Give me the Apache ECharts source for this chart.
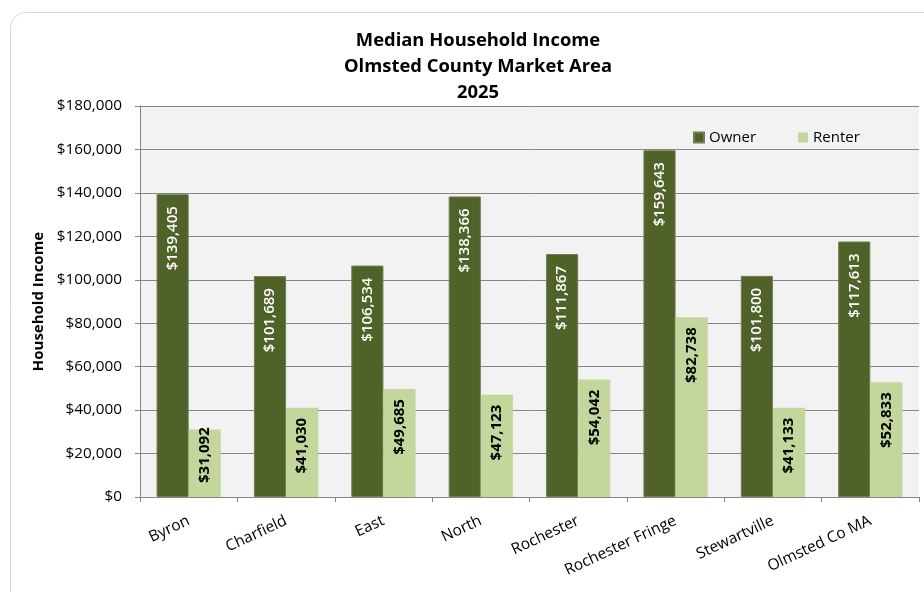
<!DOCTYPE html>
<html>
<head>
<meta charset="utf-8">
<script src="https://cdn.jsdelivr.net/npm/echarts@6/dist/echarts.min.js"></script>
<style>
  html, body { margin: 0; padding: 0; background: #ffffff; }
  #chart { width: 924px; height: 592px; }
</style>
</head>
<body>
<div id="chart"></div>
<script>
// Median household income by submarket, 2025
const categories = ['Byron', 'Charfield', 'East', 'North', 'Rochester', 'Rochester Fringe', 'Stewartville', 'Olmsted Co MA'];
const ownerIncome = [139405, 101689, 106534, 138366, 111867, 159643, 101800, 117613];
const renterIncome = [31092, 41030, 49685, 47123, 54042, 82738, 41133, 52833];
const yTicks = [0, 20000, 40000, 60000, 80000, 100000, 120000, 140000, 160000, 180000];

const FONT = '"Open Sans", "Noto Sans", sans-serif';
const money = v => '$' + Math.round(v).toLocaleString('en-US');

const chart = echarts.init(document.getElementById('chart'), null, { renderer: 'canvas' });

// Short bars: keep the rotated value label clear of the bar base
const renterData = renterIncome.map(v => {
  if (v < 35000) {
    return { value: v, label: { position: 'insideBottom', align: 'left', distance: 14 } };
  }
  return v;
});

chart.setOption({
  animation: false,
  textStyle: { fontFamily: FONT },
  graphic: [{
    type: 'rect',
    z: -10,
    shape: { x: 10.5, y: 12.5, width: 1000, height: 1000, r: 15 },
    style: { fill: '#ffffff', stroke: '#d9d9d9', lineWidth: 1 }
  }],
  title: {
    text: 'Median Household Income\nOlmsted County Market Area\n2025',
    left: 473,
    textAlign: 'center',
    top: 23,
    textStyle: { fontFamily: FONT, fontSize: 18.4, fontWeight: 'bold', color: '#000000', lineHeight: 26 }
  },
  legend: {
    left: 688,
    top: 125,
    itemWidth: 10,
    itemHeight: 10,
    itemGap: 42,
    icon: 'rect',
    textStyle: { fontFamily: FONT, fontSize: 15, color: '#000000' },
    data: ['Owner', 'Renter']
  },
  grid: {
    left: 140, right: 5, top: 106, bottom: 95,
    show: true, backgroundColor: '#f2f2f2', borderWidth: 0
  },
  xAxis: {
    type: 'category',
    data: categories,
    axisLine: { lineStyle: { color: '#868686', width: 1 } },
    axisTick: { show: true, length: 5, lineStyle: { color: '#868686' } },
    axisLabel: { rotate: 25, margin: 23, fontSize: 15.5, color: '#000000', fontFamily: FONT, interval: 0 }
  },
  yAxis: {
    type: 'value',
    min: yTicks[0],
    max: yTicks[yTicks.length - 1],
    interval: yTicks[1] - yTicks[0],
    name: 'Household Income',
    nameLocation: 'middle',
    nameGap: 93,
    nameTextStyle: { fontFamily: FONT, fontSize: 15, fontWeight: 'bold', color: '#000000' },
    axisLine: { show: true, lineStyle: { color: '#868686', width: 1 } },
    axisTick: { show: true, length: 5, lineStyle: { color: '#868686' } },
    axisLabel: { margin: 18, fontSize: 15.3, color: '#000000', fontFamily: FONT, formatter: money },
    splitLine: { show: true, lineStyle: { color: '#868686', width: 1 } }
  },
  series: [
    {
      name: 'Owner',
      type: 'bar',
      data: ownerIncome,
      barGap: '0%',
      barCategoryGap: '34%',
      itemStyle: { color: '#4f6228', borderColor: '#6f7f55', borderWidth: 1 },
      label: {
        show: true,
        position: 'insideTop',
        rotate: 90,
        align: 'right',
        verticalAlign: 'middle',
        distance: 12,
        color: '#ffffff',
        fontFamily: FONT,
        fontSize: 15,
        fontWeight: 600,
        formatter: p => money(p.value)
      }
    },
    {
      name: 'Renter',
      type: 'bar',
      data: renterData,
      itemStyle: { color: '#c3d69b' },
      label: {
        show: true,
        position: 'insideTop',
        rotate: 90,
        align: 'right',
        verticalAlign: 'middle',
        distance: 10,
        color: '#000000',
        fontFamily: FONT,
        fontSize: 15,
        fontWeight: 'bold',
        formatter: p => money(p.value)
      }
    }
  ]
});
</script>
</body>
</html>
